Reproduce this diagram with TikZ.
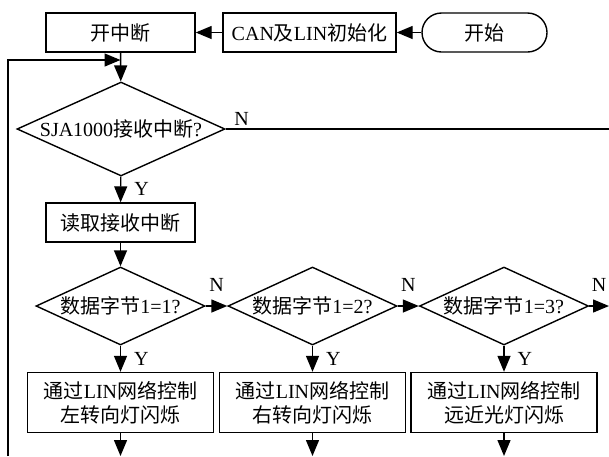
\documentclass[tikz,border=0pt]{standalone}
\usepackage{fontspec}
\setmainfont{Liberation Serif}
\newfontfamily\cjk{Noto Sans CJK SC}
\newcommand{\zh}[1]{{\cjk #1}}
\usetikzlibrary{arrows.meta,shapes.geometric}
\begin{document}
\begin{tikzpicture}[x=1pt,y=-1pt,
		every node/.style={font=\fontsize{20}{24}\selectfont},
		box/.style={draw,line width=1.4pt,minimum height=39pt,inner sep=0pt},
		twobox/.style={draw,line width=1.4pt,minimum width=186pt,minimum height=60pt,inner sep=0pt,align=center},
		term/.style={box,rounded corners=19.5pt,minimum width=125pt},
		dec/.style={draw,line width=1.4pt,diamond,inner sep=0pt},
		arr/.style={line width=1.4pt,-{Triangle[length=16pt,width=13pt]}},
		lab/.style={inner sep=2pt}]
		\useasboundingbox (0,0) rectangle (609,456);
		\node[term] (start) at (484.5,32.5) {\zh{开始}};
		\node[box,minimum width=173pt] (init) at (309.5,32.5) {CAN\zh{及}LIN\zh{初始化}};
		\node[box,minimum width=149pt] (open) at (120.5,32.5) {\zh{开中断}};
		\node[dec,aspect=2.3,minimum width=208pt,minimum height=94pt] (recv) at (121,129) {SJA1000\zh{接收中断}?};
		\node[box,minimum width=149pt] (read) at (120.5,222.5) {\zh{读取接收中断}};
		\node[dec,aspect=2.17,minimum width=169pt,minimum height=78pt] (byte1) at (120.5,306) {\zh{数据字节}1=1?};
		\node[dec,aspect=2.17,minimum width=169pt,minimum height=78pt] (byte2) at (312.5,306) {\zh{数据字节}1=2?};
		\node[dec,aspect=2.17,minimum width=169pt,minimum height=78pt] (byte3) at (504,306) {\zh{数据字节}1=3?};
		\node[twobox] (left) at (120.5,402.5) {\zh{通过}LIN\zh{网络控制}\\\zh{左转向灯闪烁}};
		\node[twobox] (right) at (312.5,402.5) {\zh{通过}LIN\zh{网络控制}\\\zh{右转向灯闪烁}};
		\node[twobox] (beam) at (504,402.5) {\zh{通过}LIN\zh{网络控制}\\\zh{远近光灯闪烁}};
		\coordinate (loop) at (8,456);
		\coordinate (back) at (120.5,60);
		\coordinate (nout0) at (609,129);
		\coordinate (nout3) at (609,306);
		\coordinate (e1) at (120.5,456);
		\coordinate (e2) at (312.5,456);
		\coordinate (e3) at (504,456);
		\draw[arr] (start) -- (init);
		\draw[arr] (init) -- (open);
		\draw[arr] (open) -- (recv);
		\draw[arr] (loop) |- (back);
		\draw[line width=1.4pt] (recv.east) -- node[lab,pos=0,above right,xshift=6pt,yshift=1pt] {N} (nout0);
		\draw[arr] (recv) -- node[lab,right,xshift=11pt] {Y} (read);
		\draw[arr] (read) -- (byte1);
		\draw[arr] (byte1) -- node[lab,above,yshift=12pt] {N} (byte2);
		\draw[arr] (byte2) -- node[lab,above,yshift=12pt] {N} (byte3);
		\draw[arr] (byte3) -- node[lab,above,yshift=12pt] {N} (nout3);
		\draw[arr] (byte1) -- node[lab,right,xshift=11pt] {Y} (left);
		\draw[arr] (byte2) -- node[lab,right,xshift=11pt] {Y} (right);
		\draw[arr] (byte3) -- node[lab,right,xshift=11pt] {Y} (beam);
		\draw[arr] (left) -- (e1);
		\draw[arr] (right) -- (e2);
		\draw[arr] (beam) -- (e3);
	\end{tikzpicture}
\end{document}
